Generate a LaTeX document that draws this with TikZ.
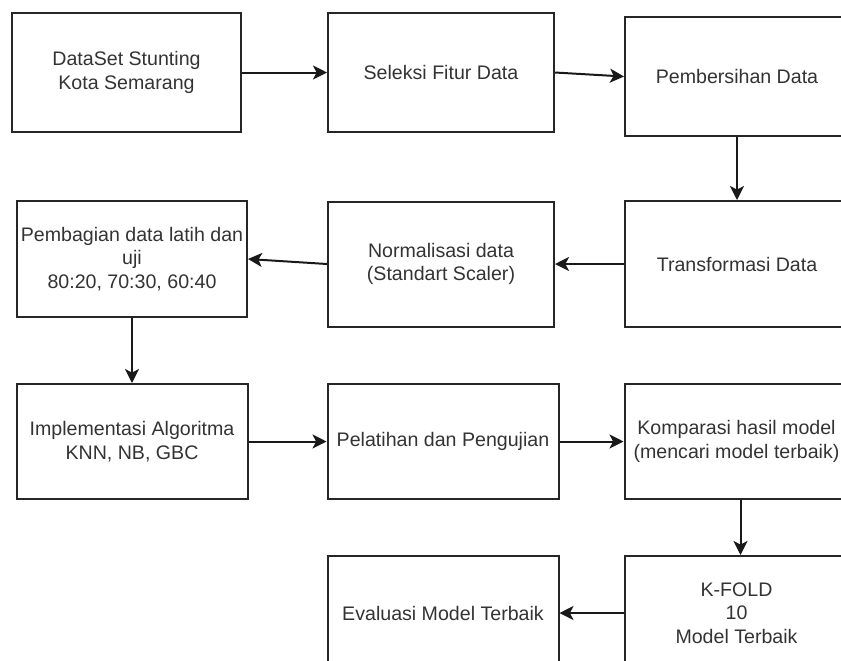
\documentclass[tikz,border=0pt]{standalone}
\usepackage{fontspec}
\setmainfont{Liberation Sans}
\usepackage{tikz}
\usetikzlibrary{arrows.meta,positioning}

\begin{document}
\begin{tikzpicture}[
        x=0.5pt, y=-0.5pt,
        font=\fontsize{9.8}{11.75}\selectfont,
        box/.style={draw=black!85, line width=1pt, align=center, inner sep=1pt, text=black!80},
        line/.style={-{Stealth[length=7pt, width=7pt, inset=1.8pt]}, line width=1pt, draw=black!90}
    ]
        \useasboundingbox (0,0) rectangle (841,660);
        \clip (0,0) rectangle (841,660);

        \node[box, minimum width=114.5pt, minimum height=59.5pt] (dataset) at (126.5,72.5) {DataSet Stunting\\Kota Semarang};
        \node[box, minimum width=113pt, minimum height=59.5pt, right=42.5pt of dataset] (seleksi) {Seleksi Fitur Data};
        \node[box, minimum width=112pt, minimum height=59.5pt, right=34.5pt of seleksi, yshift=-2pt] (bersih) {Pembersihan Data};
        \node[box, minimum width=112pt, minimum height=63pt, below=31.5pt of bersih] (transf) {Transformasi Data};
        \node[box, minimum width=113pt, minimum height=62.5pt, left=34.5pt of transf] (norm) {Normalisasi data\\(Standart Scaler)};
        \node[box, minimum width=115pt, minimum height=58pt, left=39.5pt of norm, yshift=2.5pt] (bagi) {Pembagian data latih dan\\uji\\80:20, 70:30, 60:40};
        \node[box, minimum width=115.5pt, minimum height=57.5pt, below=32.5pt of bagi] (impl) {Implementasi Algoritma\\KNN, NB, GBC};
        \node[box, minimum width=115.5pt, minimum height=57.5pt, right=39pt of impl] (latih) {Pelatihan dan Pengujian};
        \node[box, minimum width=112pt, minimum height=57.5pt, right=32pt of latih] (komp) {Komparasi hasil model\\(mencari model terbaik)};
        \node[box, minimum width=112pt, minimum height=57pt, below=27.5pt of komp] (kfold) {K-FOLD\\10\\Model Terbaik};
        \node[box, minimum width=115.5pt, minimum height=57pt, left=32pt of kfold] (eval) {Evaluasi Model Terbaik};

        \draw[line] (dataset) -- (seleksi);
        \draw[line] (seleksi.east) -- (bersih.west);
        \draw[line] (bersih) -- (transf);
        \draw[line] (transf) -- (norm);
        \draw[line] (norm.west) -- (bagi.east);
        \draw[line] (bagi) -- (impl);
        \draw[line] (impl) -- (latih);
        \draw[line] (latih) -- (komp);
        \draw[line] (komp.south) ++(2pt,0) coordinate (kt) -- (kt |- kfold.north);
        \draw[line] (kfold) -- (eval);
    \end{tikzpicture}
\end{document}
